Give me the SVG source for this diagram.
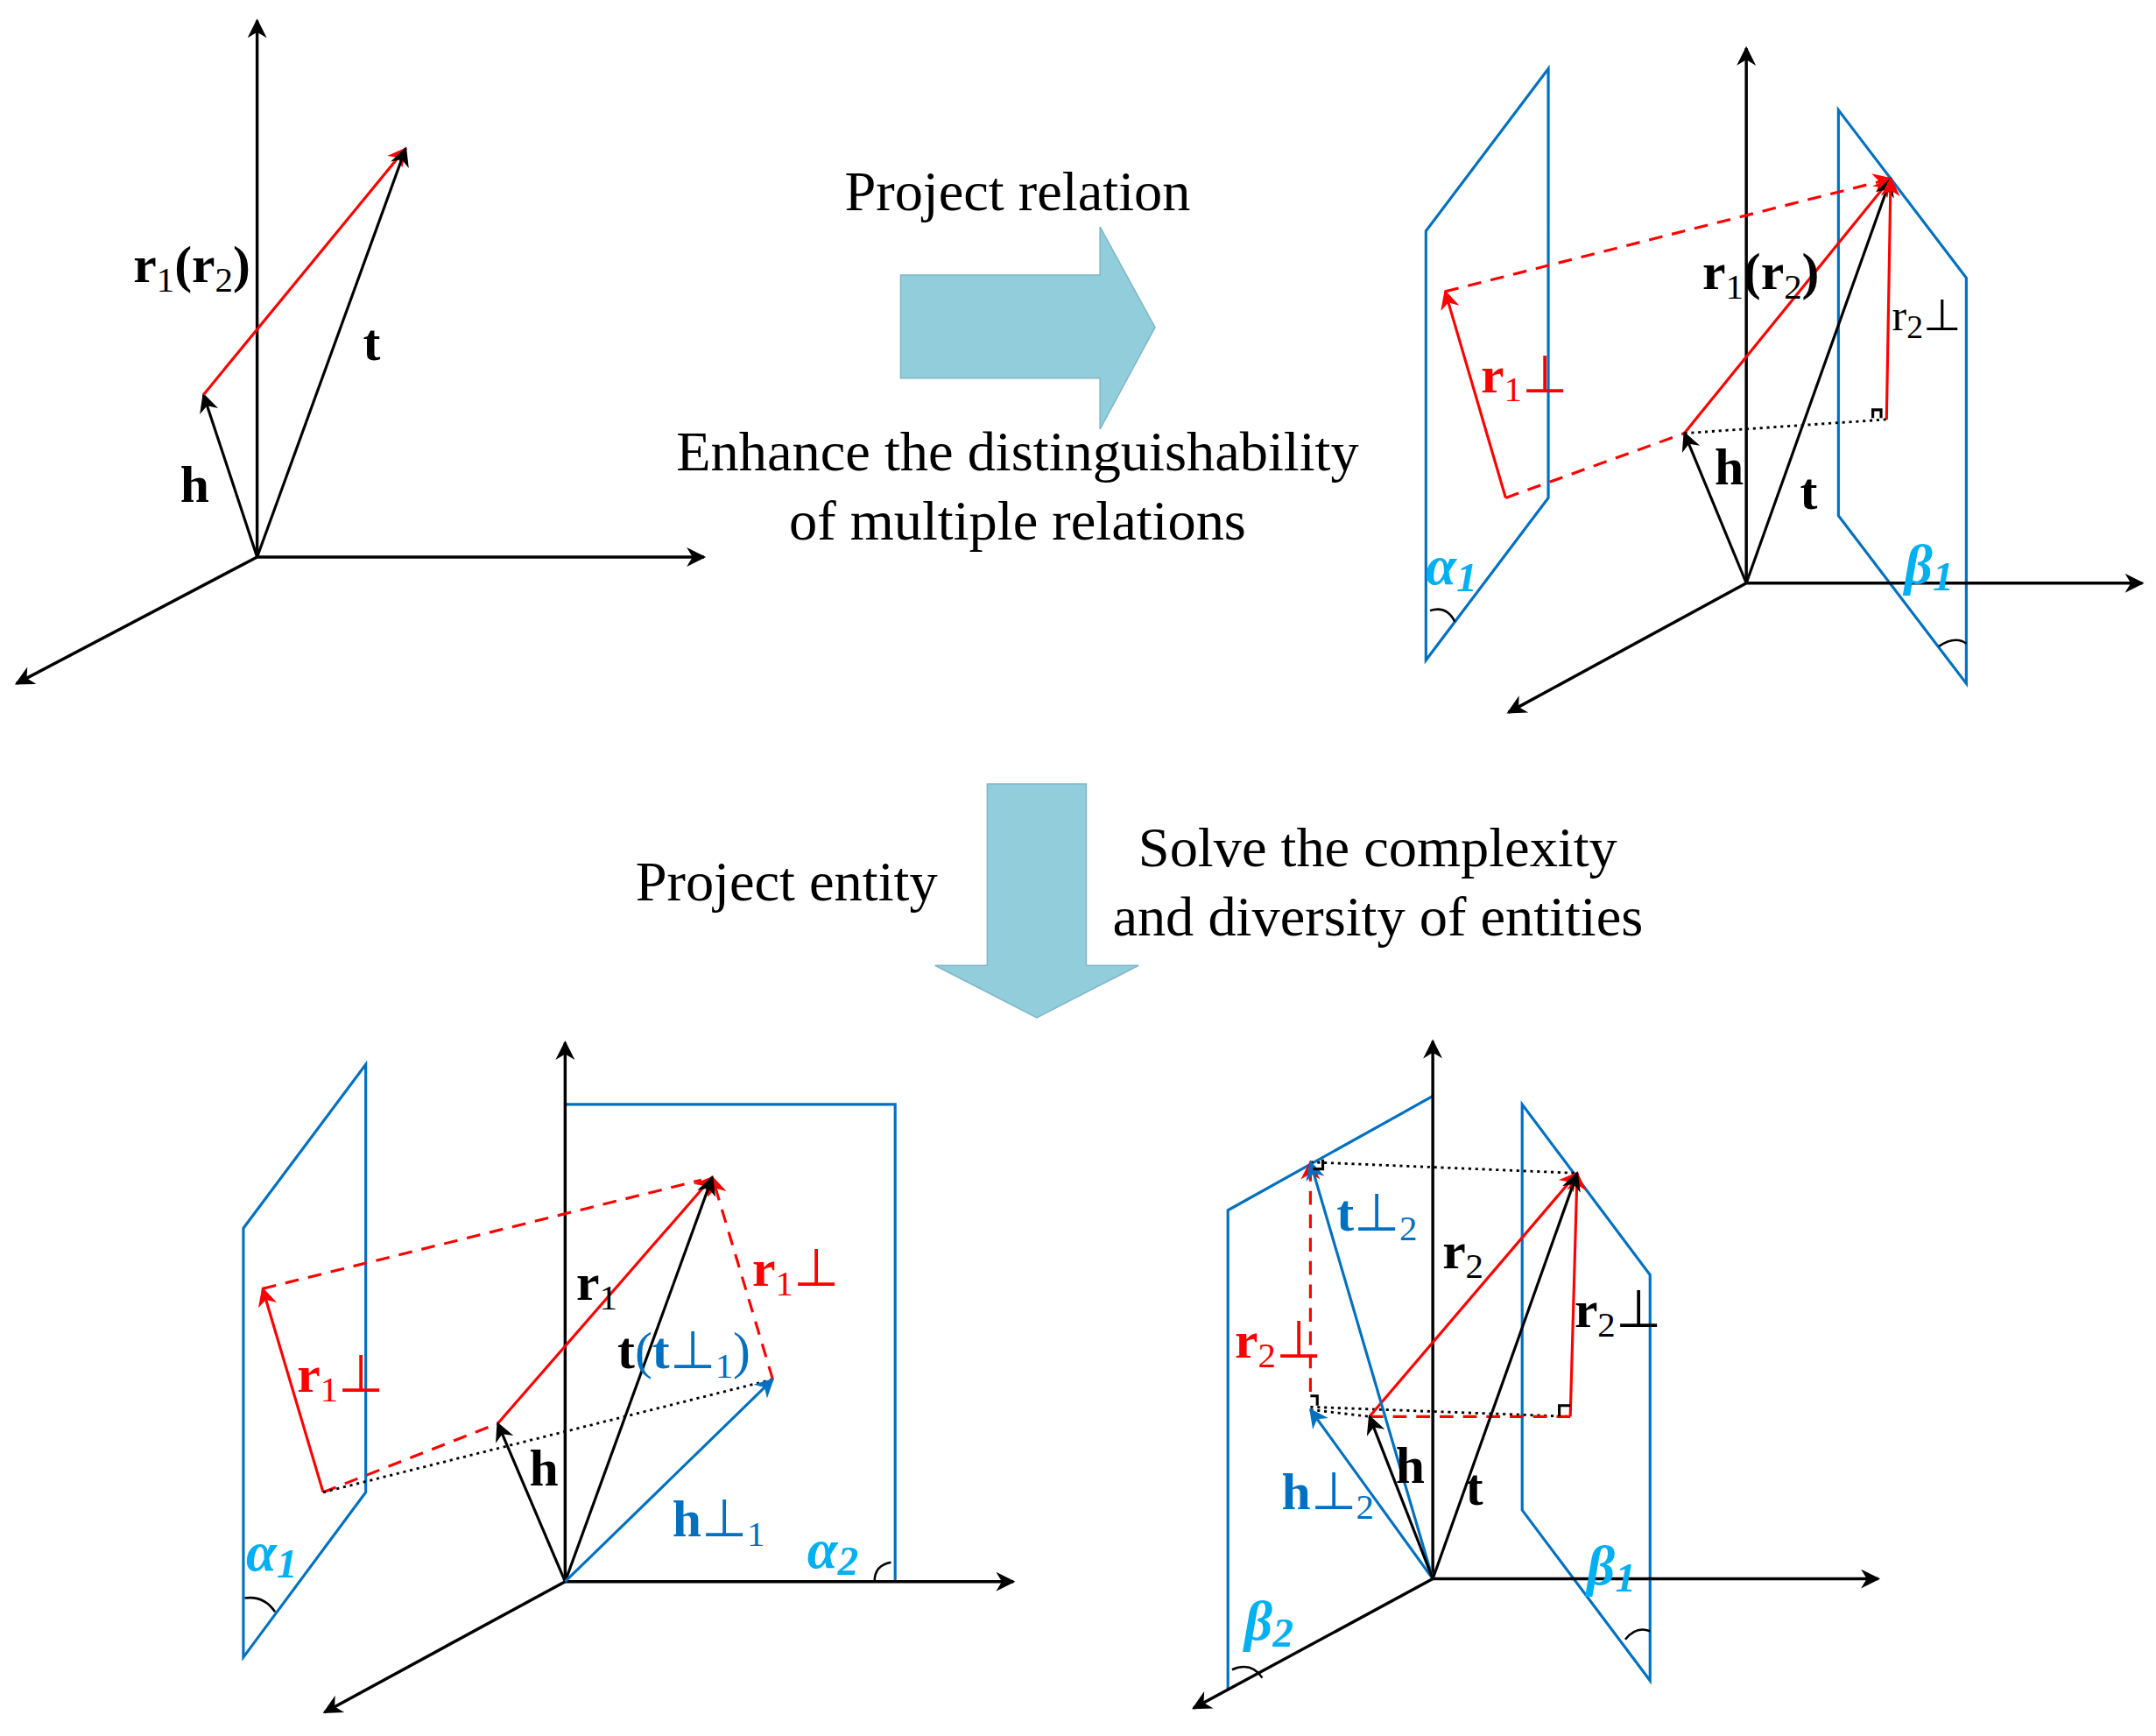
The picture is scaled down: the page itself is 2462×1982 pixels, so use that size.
<svg xmlns="http://www.w3.org/2000/svg" width="2462" height="1982" viewBox="0 0 2462 1982">
<defs>
<marker id="ak" viewBox="0 0 10 10" refX="9" refY="5" markerWidth="16" markerHeight="14" markerUnits="userSpaceOnUse" orient="auto"><path d="M0,0 L10,5 L0,10 L3,5 z" fill="#000"/></marker>
<marker id="ar" viewBox="0 0 10 10" refX="9" refY="5" markerWidth="16" markerHeight="14" markerUnits="userSpaceOnUse" orient="auto"><path d="M0,0 L10,5 L0,10 L3,5 z" fill="#f00"/></marker>
<marker id="ab" viewBox="0 0 10 10" refX="9" refY="5" markerWidth="16" markerHeight="14" markerUnits="userSpaceOnUse" orient="auto"><path d="M0,0 L10,5 L0,10 L3,5 z" fill="#0070C0"/></marker>
</defs>
<style>
.ax{stroke:#000;stroke-width:2.2;fill:none;marker-end:url(#ak)}
.k{stroke:#000;stroke-width:2;fill:none}
.ka{stroke:#000;stroke-width:2;fill:none;marker-end:url(#ak)}
.ra{stroke:#f00;stroke-width:2;fill:none;marker-end:url(#ar)}
.rd{stroke:#f00;stroke-width:2;fill:none;stroke-dasharray:10,7}
.rda{stroke:#f00;stroke-width:2;fill:none;stroke-dasharray:10,7;marker-end:url(#ar)}
.ba{stroke:#0070C0;stroke-width:2;fill:none;marker-end:url(#ab)}
.pl{stroke:#0070C0;stroke-width:2;fill:none}
.dot{stroke:#000;stroke-width:1.8;fill:none;stroke-dasharray:2,3}
.arc{stroke:#000;stroke-width:1.6;fill:none}
text{font-family:"Liberation Serif",serif}
.lb{font-size:38px;font-weight:bold}
.cap{font-size:41px;text-anchor:middle}
.g{font-size:40px;font-style:italic;font-weight:bold;fill:#00B0F0}
.big{fill:#92CDDC;stroke:#7fb8c8;stroke-width:1}
</style>
<g transform="scale(1.5702)">
<g id="panel1">
<line class="ax" x1="187" y1="405" x2="187" y2="15"/>
<line class="ax" x1="187" y1="405" x2="512" y2="405"/>
<line class="ax" x1="187" y1="405" x2="12" y2="497"/>
<g id="connectors1">
<line class="ka" x1="187" y1="405" x2="148" y2="287"/>
<line class="ra" x1="148" y1="287" x2="295" y2="108"/>
<line class="ka" x1="187" y1="405" x2="295" y2="108"/>
</g>
<text class="lb" x="97" y="205">r<tspan font-size="26" font-weight="normal" dy="7">1</tspan><tspan dy="-7">(r</tspan><tspan font-size="26" font-weight="normal" dy="7">2</tspan><tspan dy="-7">)</tspan></text>
<text class="lb" x="264" y="262">t</text>
<text class="lb" x="131" y="365">h</text>
</g>
<g id="arrow-right">
<path class="big" d="M655,200 L800,200 L800,165 L840,238 L800,312 L800,275 L655,275 z"/>
<text class="cap" x="740" y="153">Project relation</text>
<text class="cap" x="740" y="342">Enhance the distinguishability</text>
<text class="cap" x="740" y="392">of multiple relations</text>
</g>
<g id="panel2">
<polygon class="pl" points="1037,168 1126,50 1126,362 1037,480"/>
<polygon class="pl" points="1337,80 1430,202 1430,497 1337,375"/>
<line class="ax" x1="1270" y1="424" x2="1270" y2="35"/>
<line class="ax" x1="1270" y1="424" x2="1558" y2="424"/>
<line class="ax" x1="1270" y1="424" x2="1097" y2="518"/>
<g id="connectors2">
<line class="rda" x1="1051" y1="212" x2="1375" y2="130"/>
<line class="rd" x1="1095" y1="362" x2="1225" y2="315"/>
<line class="ra" x1="1095" y1="362" x2="1051" y2="212"/>
<line class="ra" x1="1225" y1="315" x2="1375" y2="130"/>
<line class="ka" x1="1270" y1="424" x2="1225" y2="315"/>
<line class="ka" x1="1270" y1="424" x2="1375" y2="130"/>
<line class="ra" x1="1372" y1="305" x2="1375" y2="130"/>
<line class="dot" x1="1225" y1="315" x2="1372" y2="305"/>
<path class="k" d="M1362,304 L1362,298 L1368,298 L1368,304" stroke-width="1.5"/>
</g>
<path class="arc" d="M1040,444 Q1052,440 1058,452"/>
<path class="arc" d="M1410,470 Q1422,462 1430,468"/>
<text class="lb" x="1238" y="210">r<tspan font-size="26" font-weight="normal" dy="7">1</tspan><tspan dy="-7">(r</tspan><tspan font-size="26" font-weight="normal" dy="7">2</tspan><tspan dy="-7">)</tspan></text>
<text x="1376" y="240" font-size="32">r<tspan font-size="24" dy="6">2</tspan><tspan dy="-6">⊥</tspan></text>
<text class="lb" x="1077" y="285" fill="#f00">r<tspan font-size="26" font-weight="normal" dy="7">1</tspan><tspan dy="-7" font-weight="normal">⊥</tspan></text>
<text class="lb" x="1247" y="352">h</text>
<text class="lb" x="1309" y="370">t</text>
<text class="g" x="1037" y="425">α<tspan font-size="30" dy="5">1</tspan></text>
<text class="g" x="1385" y="424">β<tspan font-size="30" dy="5">1</tspan></text>
</g>
<g id="arrow-down">
<path class="big" d="M718,570 L790,570 L790,702 L828,702 L754,740 L680,702 L718,702 z"/>
<text class="cap" x="572" y="655">Project entity</text>
<text class="cap" x="1002" y="630">Solve the complexity</text>
<text class="cap" x="1002" y="680">and diversity of entities</text>
</g>
<g id="panel3">
<polygon class="pl" points="177,893 266,774 266,1085 177,1205"/>
<polyline class="pl" points="411,803 651,803 651,1150"/>
<line class="ax" x1="411" y1="1150" x2="411" y2="758"/>
<line class="ax" x1="411" y1="1150" x2="737" y2="1150"/>
<line class="ax" x1="411" y1="1150" x2="236" y2="1245"/>
<g id="connectors3">
<line class="rd" x1="191" y1="937" x2="510" y2="858"/>
<line class="rd" x1="235" y1="1085" x2="362" y2="1035"/>
<line class="ra" x1="235" y1="1085" x2="191" y2="937"/>
<line class="dot" x1="235" y1="1085" x2="562" y2="1003"/>
<line class="ra" x1="362" y1="1035" x2="518" y2="856"/>
<line class="rda" x1="562" y1="1003" x2="518" y2="856"/>
<line class="ka" x1="411" y1="1150" x2="518" y2="856"/>
<line class="ka" x1="411" y1="1150" x2="362" y2="1035"/>
<line class="ba" x1="411" y1="1150" x2="562" y2="1003"/>
</g>
<path class="arc" d="M178,1162 Q192,1160 200,1172"/>
<path class="arc" d="M636,1150 Q636,1138 648,1136"/>
<text class="lb" x="419" y="945">r<tspan font-size="26" font-weight="normal" dy="7">1</tspan></text>
<text class="lb" x="547" y="935" fill="#f00">r<tspan font-size="26" font-weight="normal" dy="7">1</tspan><tspan dy="-7" font-weight="normal">⊥</tspan></text>
<text class="lb" x="216" y="1012" fill="#f00">r<tspan font-size="26" font-weight="normal" dy="7">1</tspan><tspan dy="-7" font-weight="normal">⊥</tspan></text>
<text class="lb" x="449" y="995">t<tspan fill="#0070C0" font-weight="normal">(</tspan><tspan fill="#0070C0">t</tspan><tspan fill="#0070C0" font-weight="normal">⊥</tspan><tspan fill="#0070C0" font-size="26" font-weight="normal" dy="7">1</tspan><tspan fill="#0070C0" font-weight="normal" dy="-7">)</tspan></text>
<text class="lb" x="385" y="1080">h</text>
<text class="lb" x="489" y="1117" fill="#0070C0">h<tspan font-weight="normal">⊥</tspan><tspan font-size="26" font-weight="normal" dy="7">1</tspan></text>
<text class="g" x="179" y="1142">α<tspan font-size="30" dy="5">1</tspan></text>
<text class="g" x="587" y="1140">α<tspan font-size="30" dy="5">2</tspan></text>
</g>
<g id="panel4">
<polyline class="pl" points="893,1228 893,880 1042,797"/>
<polygon class="pl" points="1107,803 1200,927 1200,1222 1107,1098"/>
<line class="ax" x1="1042" y1="1148" x2="1042" y2="757"/>
<line class="ax" x1="1042" y1="1148" x2="1366" y2="1148"/>
<line class="ax" x1="1042" y1="1148" x2="868" y2="1242"/>
<g id="connectors4">
<line class="dot" x1="953" y1="845" x2="1147" y2="853"/>
<line class="dot" x1="953" y1="1023" x2="1142" y2="1030"/>
<line class="dot" x1="953" y1="1025" x2="996" y2="1030"/>
<line class="rda" x1="953" y1="1012" x2="953" y2="845"/>
<line class="rd" x1="996" y1="1030" x2="1142" y2="1030"/>
<line class="ra" x1="996" y1="1030" x2="1147" y2="853"/>
<line class="ra" x1="1142" y1="1030" x2="1147" y2="853"/>
<line class="ba" x1="1042" y1="1148" x2="953" y2="845"/>
<line class="ba" x1="1042" y1="1148" x2="953" y2="1025"/>
<line class="ka" x1="1042" y1="1148" x2="996" y2="1030"/>
<line class="ka" x1="1042" y1="1148" x2="1147" y2="853"/>
<path class="k" d="M1134,1030 L1134,1022 L1142,1022" stroke-width="1.5"/>
<path class="k" d="M955,850 L962,850 L962,843" stroke-width="1.5"/>
<path class="k" d="M953,1015 L958,1015 L958,1022" stroke-width="1.5"/>
</g>
<path class="arc" d="M896,1214 Q910,1208 918,1220"/>
<path class="arc" d="M1182,1192 Q1190,1182 1200,1186"/>
<text class="lb" x="972" y="895" fill="#0070C0">t<tspan font-weight="normal">⊥</tspan><tspan font-size="26" font-weight="normal" dy="7">2</tspan></text>
<text class="lb" x="1049" y="922">r<tspan font-size="26" font-weight="normal" dy="7">2</tspan></text>
<text class="lb" x="1145" y="965">r<tspan font-size="26" font-weight="normal" dy="7">2</tspan><tspan dy="-7" font-weight="normal">⊥</tspan></text>
<text class="lb" x="898" y="987" fill="#f00">r<tspan font-size="26" font-weight="normal" dy="7">2</tspan><tspan dy="-7" font-weight="normal">⊥</tspan></text>
<text class="lb" x="1015" y="1078">h</text>
<text class="lb" x="1066" y="1094">t</text>
<text class="lb" x="932" y="1097" fill="#0070C0">h<tspan font-weight="normal">⊥</tspan><tspan font-size="26" font-weight="normal" dy="7">2</tspan></text>
<text class="g" x="905" y="1192">β<tspan font-size="30" dy="5">2</tspan></text>
<text class="g" x="1154" y="1152">β<tspan font-size="30" dy="5">1</tspan></text>
</g>
</g>
</svg>
